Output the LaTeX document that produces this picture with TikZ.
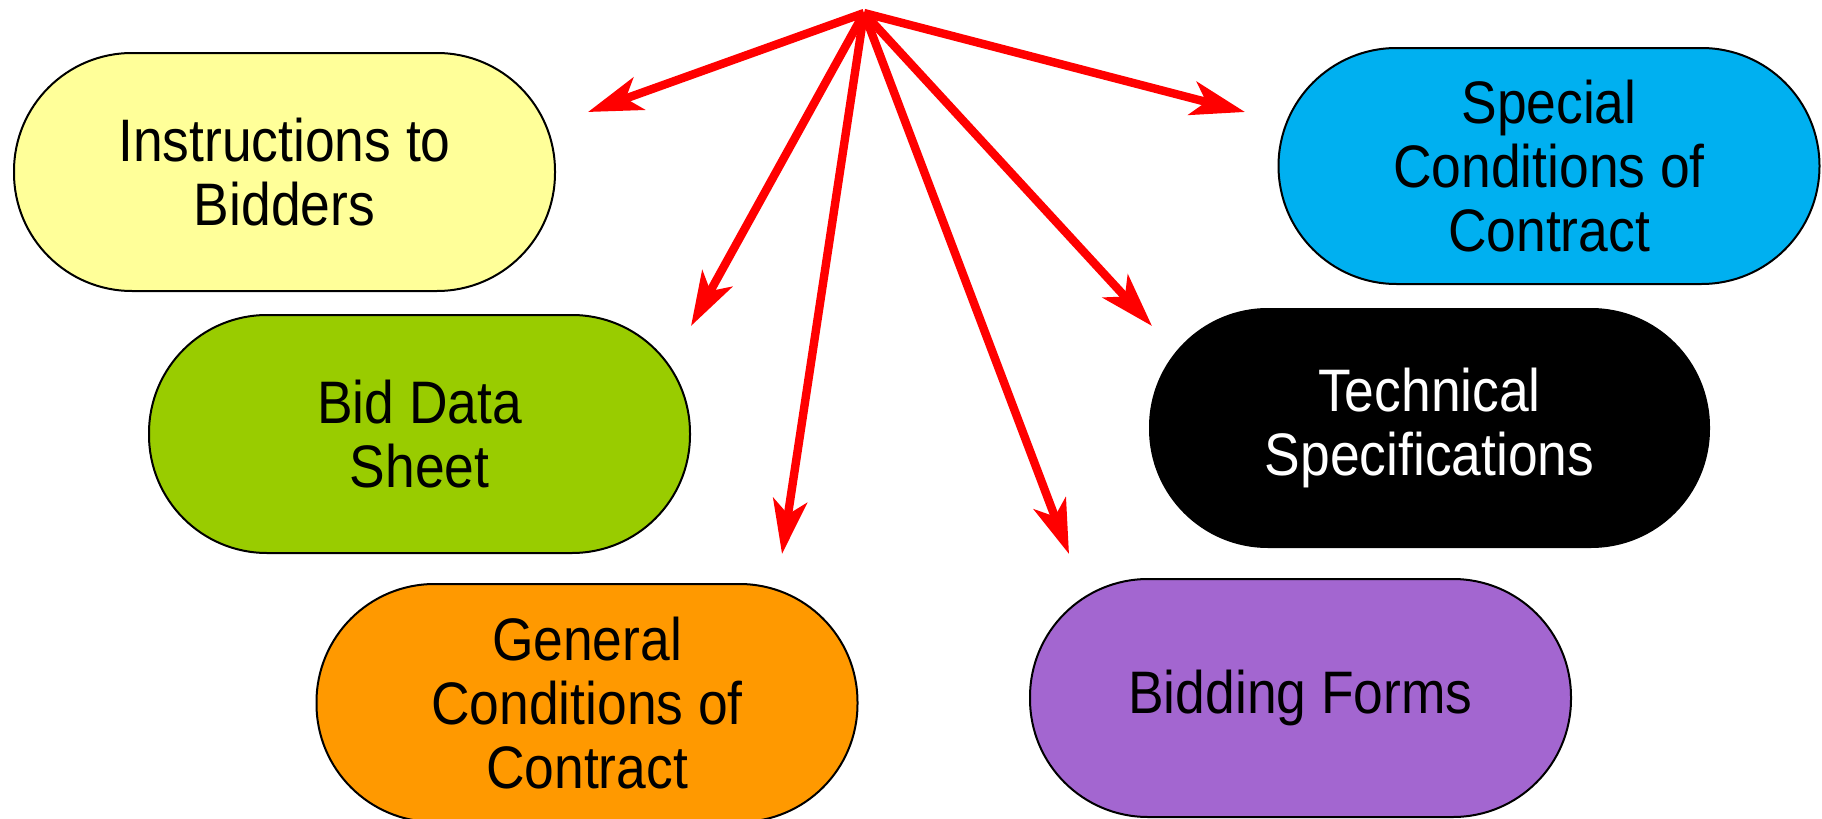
\documentclass[tikz,border=0pt]{standalone}
\usepackage{fontspec}
\setmainfont{Liberation Sans}[FakeStretch=0.89]
\usetikzlibrary{arrows.meta}
\definecolor{cyellow}{HTML}{FFFF99}
\definecolor{cgreen}{HTML}{99CC00}
\definecolor{corange}{HTML}{FF9900}
\definecolor{cblue}{HTML}{00B0F0}
\definecolor{cpurple}{HTML}{A366D0}
\definecolor{cred}{HTML}{FF0000}
\begin{document}
\begin{tikzpicture}[x=0.5pt,y=-0.5pt,
  pill/.style={draw=black, line width=1pt, rounded corners=59pt,
    minimum width=270.5pt, minimum height=119pt, align=center,
    font=\fontsize{30}{32}\selectfont, inner sep=0pt},
  spoke/.style={draw=cred, line width=4.2pt,
    -{Stealth[length=27pt, width=17pt, inset=7pt]}}]
\useasboundingbox (0,0) rectangle (1822,819);
\node[pill, fill=cyellow] (itb) at (284.5,172) {Instructions to\\Bidders};
\node[pill, fill=cgreen] (bds) at (419.5,434) {Bid Data\\Sheet};
\node[pill, fill=corange] (gcc) at (587,703) {General\\Conditions of\\Contract};
\node[pill, fill=cblue, minimum height=118pt] (scc) at (1549,166) {Special\\Conditions of\\Contract};
\node[pill, fill=black, text=white, minimum width=279.5pt] (ts) at (1429.5,428) {Technical\\Specifications};
\node[pill, fill=cpurple] (bf) at (1300.5,698) {Bidding Forms};
\coordinate (hub) at (864,13);
\coordinate (t1) at (588,112);
\coordinate (t2) at (691,326);
\coordinate (t3) at (782,554);
\coordinate (t4) at (1069,554);
\coordinate (t5) at (1152,326);
\coordinate (t6) at (1245,112);
\foreach \t in {t1,t2,t3,t4,t5,t6} \draw[spoke] (hub) -- (\t);
\end{tikzpicture}
\end{document}
